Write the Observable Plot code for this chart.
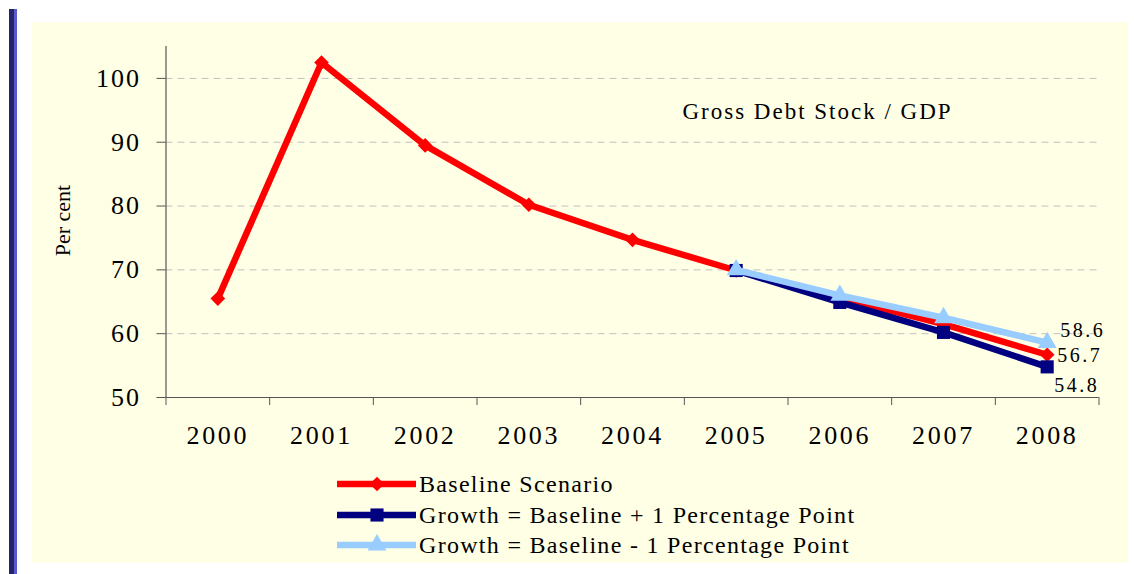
<!DOCTYPE html>
<html>
<head>
<meta charset="utf-8">
<script src="https://cdn.jsdelivr.net/npm/d3@7"></script>
<script src="https://cdn.jsdelivr.net/npm/@observablehq/plot@0.6"></script>
<style>
  html, body { margin: 0; padding: 0; background: #ffffff; }
  #page { position: relative; width: 1134px; height: 574px; background: #ffffff; overflow: hidden; font-family: "Liberation Serif", "Times New Roman", serif; }
  #bar { position: absolute; left: 9px; top: 9px; width: 8px; height: 565px; background: linear-gradient(to right, #232370 0, #232370 5.5px, #5a5ac8 5.5px, #5a5ac8 8px); }
  #panel { position: absolute; left: 32px; top: 22px; width: 1096px; height: 541px; background: #FFFFE6; }
  #chart { position: absolute; left: 0; top: 0; }
  #chart svg text { font-family: "Liberation Serif", "Times New Roman", serif; letter-spacing: 2.5px; }
  #chart svg text.ls-y { letter-spacing: 2px; }
  #chart svg text.ls-x { letter-spacing: 2.7px; }
  #chart svg text.ls-t { letter-spacing: 2px; }
  #chart svg text.nospace { letter-spacing: 0px; }
  #legend { position: absolute; left: 337px; top: 469px; }
  .row { display: flex; align-items: center; height: 30.5px; }
  .row svg { display: block; }
  .row span { font-family: "Liberation Serif", "Times New Roman", serif; font-size: 24px; letter-spacing: 1.3px; color: #000; margin-left: 2px; line-height: 1; }
</style>
</head>
<body>
<div id="page">
  <div id="bar"></div>
  <div id="panel"></div>
  <div id="chart"></div>
  <div id="legend"></div>
</div>
<script>
// ---- data ----
const years = [2000, 2001, 2002, 2003, 2004, 2005, 2006, 2007, 2008];
const baseline = [65.5, 102.5, 89.5, 80.2, 74.7, 69.9, 65.6, 61.5, 56.7];
const growthPlusYears = [2005, 2006, 2007, 2008];
const growthPlus = [69.9, 64.9, 60.2, 54.8];
const growthMinusYears = [2005, 2006, 2007, 2008];
const growthMinus = [70.0, 66.0, 62.5, 58.6];
const yTicks = [50, 60, 70, 80, 90, 100];
const gridTicks = [60, 70, 80, 90, 100];
const seriesNames = ["Baseline Scenario", "Growth = Baseline + 1 Percentage Point", "Growth = Baseline - 1 Percentage Point"];
const seriesColors = ["#FF0000", "#000080", "#99CCFF"];
const chartTitle = "Gross Debt Stock / GDP";
const yLabel = "Per cent";

// ---- tables ----
const base = years.map((y, i) => ({year: y, value: baseline[i]}));
const plus = growthPlusYears.map((y, i) => ({year: y, value: growthPlus[i]}));
const minus = growthMinusYears.map((y, i) => ({year: y, value: growthMinus[i]}));
const boundaries = [years[0] - 0.5, ...years.map(y => y + 0.5)];
const fmt = d3.format(".1f");

const W = 1134, H = 460;
const serif = "Liberation Serif, Times New Roman, serif";

const symDiamond = d3.symbolDiamond2;
const symSquare = d3.symbolSquare;
const symTriangle = d3.symbolTriangle;

const chart = Plot.plot({
  width: W,
  height: H,
  marginLeft: 165.5,
  marginRight: 35.5,
  marginTop: 46,
  marginBottom: H - 397,
  style: {background: "transparent", fontFamily: serif, color: "#000", overflow: "visible"},
  x: {type: "linear", domain: [years[0] - 0.5, years[years.length - 1] + 0.5], axis: null},
  y: {domain: [50, 105], axis: null},
  marks: [
    Plot.ruleY(gridTicks, {stroke: "#c0c0c0", strokeWidth: 1, strokeDasharray: "7,5"}),
    Plot.axisY({ticks: yTicks, tickSize: 9, tickPadding: 16, fontSize: 26, label: null, stroke: "#555", tickFormat: d => String(d)}),
    Plot.axisX({ticks: boundaries, tickSize: 8, tickFormat: () => "", label: null, stroke: "#555"}),
    Plot.axisX({ticks: years, tickSize: 0, tickPadding: 28, tickFormat: d => String(d), fontSize: 26, label: null}),
    Plot.ruleX([years[0] - 0.5], {stroke: "#555", strokeWidth: 1.2}),
    Plot.ruleY([50], {stroke: "#555", strokeWidth: 1.2}),
    // baseline
    Plot.line(base, {x: "year", y: "value", stroke: seriesColors[0], strokeWidth: 6.5}),
    Plot.dot(base, {x: "year", y: "value", fill: seriesColors[0], symbol: symDiamond, r: 6.6}),
    // growth +1
    Plot.line(plus, {x: "year", y: "value", stroke: seriesColors[1], strokeWidth: 6.5}),
    Plot.dot(plus, {x: "year", y: "value", fill: seriesColors[1], symbol: symSquare, r: 7.4}),
    // growth -1
    Plot.line(minus, {x: "year", y: "value", stroke: seriesColors[2], strokeWidth: 6.5}),
    Plot.dot(minus, {x: "year", y: "value", fill: seriesColors[2], symbol: symTriangle, r: 7}),
    // end labels
    Plot.text([minus[minus.length - 1]], {x: "year", y: "value", text: d => fmt(d.value), textAnchor: "start", dx: 13, dy: -12, fontSize: 20}),
    Plot.text([base[base.length - 1]], {x: "year", y: "value", text: d => fmt(d.value), textAnchor: "start", dx: 10, dy: 1, fontSize: 20}),
    Plot.text([plus[plus.length - 1]], {x: "year", y: "value", text: d => fmt(d.value), textAnchor: "start", dx: 7, dy: 19, fontSize: 20}),
    // inner title
    Plot.text([chartTitle], {frameAnchor: "top", textAnchor: "middle", lineAnchor: "middle", dx: 185, dy: 65, fontSize: 23}),
    // y label
    Plot.text([yLabel], {frameAnchor: "left", textAnchor: "middle", lineAnchor: "middle", rotate: -90, dx: -103.5, dy: -1.5, fontSize: 22})
  ]
});
const allText = d3.select(chart).selectAll("text");
allText.filter(function() { return this.textContent === yLabel; }).classed("nospace", true);
allText.filter(function() { return this.textContent === chartTitle; }).classed("ls-t", true);
allText.filter(function() { return yTicks.map(String).includes(this.textContent); }).classed("ls-y", true);
allText.filter(function() { return years.map(String).includes(this.textContent); }).classed("ls-x", true);
document.getElementById("chart").appendChild(chart);

// ---- legend ----
const symbols = [symDiamond, symSquare, symTriangle];
const symSizes = [Math.PI * 6.6 * 6.6, Math.PI * 7.4 * 7.4, Math.PI * 7 * 7];
const legend = d3.select("#legend");
seriesNames.forEach((name, i) => {
  const row = legend.append("div").attr("class", "row");
  const svg = row.append("svg").attr("width", 80).attr("height", 30);
  svg.append("line").attr("x1", 0).attr("x2", 79).attr("y1", 15).attr("y2", 15)
    .attr("stroke", seriesColors[i]).attr("stroke-width", 6.5);
  svg.append("path").attr("transform", "translate(40,15)")
    .attr("d", d3.symbol(symbols[i], symSizes[i])())
    .attr("fill", seriesColors[i]);
  row.append("span").text(name);
});
</script>
</body>
</html>
